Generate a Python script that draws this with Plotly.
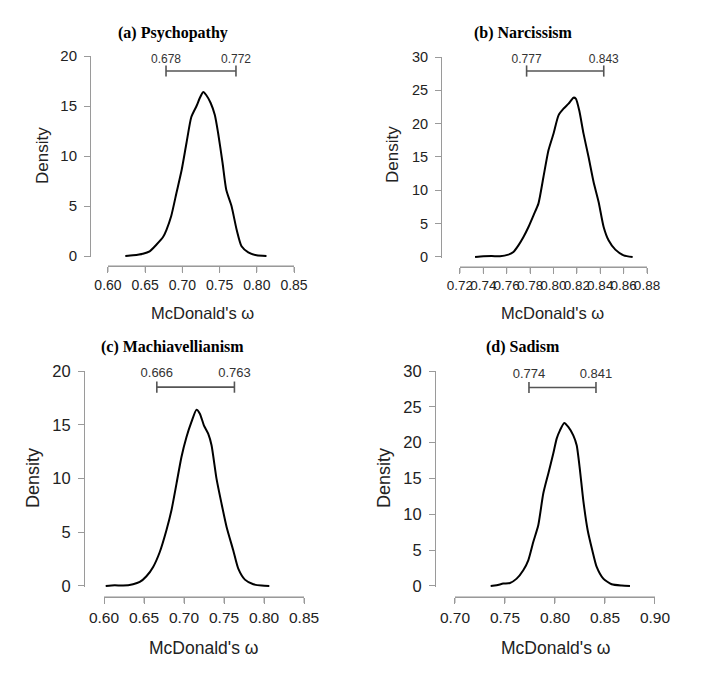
import plotly.graph_objects as go

# ---- data ----
psy_x = [0.6233, 0.6337, 0.647, 0.656, 0.665, 0.674, 0.6785, 0.685, 0.692, 0.699, 0.7055, 0.712,
         0.719, 0.7234, 0.728, 0.732, 0.738, 0.7436, 0.748, 0.754, 0.759, 0.766, 0.773, 0.7795,
         0.7885, 0.7997, 0.813]
psy_y = [0, 0.07, 0.23, 0.47, 1.13, 1.9, 2.6, 4.0, 6.3, 8.6, 11.3, 13.9,
         15.0, 15.8, 16.4, 16.1, 15.3, 14.1, 12.3, 9.3, 6.6, 5.0, 2.6, 0.97,
         0.37, 0.07, 0]

nar_x = [0.7329, 0.74, 0.7471, 0.7543, 0.7614, 0.7657, 0.77, 0.7743, 0.7786, 0.7829, 0.7871,
         0.7914, 0.7957, 0.80, 0.8043, 0.8086, 0.8129, 0.8171, 0.8191, 0.822, 0.8257, 0.83,
         0.8343, 0.8386, 0.8429, 0.8471, 0.8529, 0.86, 0.8677]
nar_y = [0, 0.1, 0.15, 0.1, 0.35, 0.75, 1.75, 3.0, 4.5, 6.25, 8.0,
         12.0, 16.0, 18.5, 21.25, 22.25, 23.0, 23.9, 23.75, 22.0, 18.5, 15.0,
         11.25, 8.25, 4.5, 2.5, 1.1, 0.25, 0]

mac_x = [0.6021, 0.6134, 0.6238, 0.6363, 0.6447, 0.653, 0.6614, 0.6697, 0.678, 0.6843, 0.6906,
         0.6968, 0.7031, 0.7093, 0.7156, 0.7198, 0.7248, 0.7302, 0.7344, 0.7406, 0.7469, 0.7532,
         0.7615, 0.7678, 0.7761, 0.7866, 0.797, 0.8066]
mac_y = [0, 0.06, 0.03, 0.16, 0.37, 0.9, 1.77, 3.16, 5.18, 7.04, 9.52,
         12.0, 13.86, 15.26, 16.4, 16.03, 14.95, 14.17, 13.09, 9.98, 7.66, 5.49,
         3.32, 1.61, 0.59, 0.16, 0.03, 0]

sad_x = [0.7357, 0.7417, 0.7483, 0.755, 0.7617, 0.7683, 0.7733, 0.7783, 0.7833, 0.7883, 0.7933,
         0.7983, 0.8017, 0.805, 0.8093, 0.8133, 0.8183, 0.8217, 0.825, 0.8283, 0.8327, 0.8373,
         0.8417, 0.8483, 0.8567, 0.8667, 0.875]
sad_y = [0, 0.09, 0.33, 0.42, 1.02, 2.19, 3.58, 6.14, 8.47, 12.9, 15.67,
         18.47, 20.56, 21.72, 22.74, 22.19, 21.02, 19.63, 16.14, 11.95, 7.77, 4.98,
         2.65, 1.02, 0.23, 0.05, 0]

titles = ["(a) Psychopathy", "(b) Narcissism", "(c) Machiavellianism", "(d) Sadism"]
ci_low = [0.678, 0.777, 0.666, 0.774]
ci_high = [0.772, 0.843, 0.763, 0.841]

xticks_a = [0.60, 0.65, 0.70, 0.75, 0.80, 0.85]
xticks_b = [0.72, 0.74, 0.76, 0.78, 0.80, 0.82, 0.84, 0.86, 0.88]
xticks_c = [0.60, 0.65, 0.70, 0.75, 0.80, 0.85]
xticks_d = [0.70, 0.75, 0.80, 0.85, 0.90]
yticks_20 = [0, 5, 10, 15, 20]
yticks_30 = [0, 5, 10, 15, 20, 25, 30]

# ---- layout per panel (paper coordinates; page body adds an 8px offset) ----
H = 678
panels = [
    dict(x=psy_x, y=psy_y, xt=xticks_a, yt=yticks_20, xdom=[0.1418, 0.4057], ydom=[0.6327, 0.9292],
         ypos=0.1163, xpos=0.6195, bar=18.5, lab=19.6, tf=14, cf=12,
         title=(0.2340, 0.9631), dens=(0.0496, 0.7832), xt_pos=(0.2752, 0.5501), af=17),
    dict(x=nar_x, y=nar_y, xt=xticks_b, yt=yticks_30, xdom=[0.6411, 0.9064], ydom=[0.6313, 0.9277],
         ypos=0.6142, xpos=0.6180, bar=27.9, lab=29.6, tf=13.5, cf=12,
         title=(0.7319, 0.9631), dens=(0.5461, 0.7832), xt_pos=(0.7730, 0.5501), af=17),
    dict(x=mac_x, y=mac_y, xt=xticks_c, yt=yticks_20, xdom=[0.1362, 0.4199], ydom=[0.1460, 0.4646],
         ypos=0.1078, xpos=0.1313, bar=18.5, lab=19.7, tf=15.5, cf=13,
         title=(0.2340, 0.5000), dens=(0.0355, 0.3068), xt_pos=(0.2780, 0.0560), af=18),
    dict(x=sad_x, y=sad_y, xt=xticks_d, yt=yticks_30, xdom=[0.6340, 0.9177], ydom=[0.1460, 0.4646],
         ypos=0.6057, xpos=0.1313, bar=27.7, lab=29.5, tf=15.5, cf=13,
         title=(0.7305, 0.5000), dens=(0.5333, 0.3068), xt_pos=(0.7759, 0.0560), af=18),
]

sans = "Liberation Sans, Arial, sans-serif"
serif = "Liberation Serif, Times New Roman, serif"
axis_grey = "#9a9a9a"
tick_len = 6

fig = go.Figure()
layout = {}
annotations = []
shapes = []

for i, p in enumerate(panels):
    n = "" if i == 0 else str(i + 1)
    xa, ya = "x" + n, "y" + n

    fig.add_trace(go.Scatter(x=p["x"], y=p["y"], mode="lines", xaxis=xa, yaxis=ya,
                             line=dict(color="black", width=2, shape="spline", smoothing=0.6),
                             hoverinfo="skip", showlegend=False))
    # credible interval bar
    fig.add_trace(go.Scatter(x=[ci_low[i], ci_high[i]], y=[p["bar"], p["bar"]], mode="lines+markers",
                             xaxis=xa, yaxis=ya, line=dict(color="#555555", width=1.6),
                             marker=dict(symbol="line-ns", size=8, line=dict(color="#555555", width=1.6)),
                             hoverinfo="skip", showlegend=False))
    fig.add_trace(go.Scatter(x=[ci_low[i], ci_high[i]], y=[p["lab"], p["lab"]], mode="text",
                             xaxis=xa, yaxis=ya, text=[f"{v:.3f}" for v in (ci_low[i], ci_high[i])],
                             textposition="middle center", cliponaxis=False,
                             textfont=dict(family=sans, size=p["cf"], color="#333333"),
                             hoverinfo="skip", showlegend=False))

    ymax = p["yt"][-1]
    layout["xaxis" + n] = dict(domain=p["xdom"], range=[p["xt"][0], p["xt"][-1]], anchor="free",
                               position=p["xpos"], tickvals=p["xt"], automargin=False,
                               ticktext=[f"{v:.2f}" for v in p["xt"]], tickangle=0,
                               showline=True, linecolor=axis_grey, linewidth=1,
                               ticks="outside", ticklen=tick_len, tickcolor=axis_grey,
                               showgrid=False, zeroline=False,
                               tickfont=dict(family=sans, size=p["tf"], color="#222222"))
    layout["yaxis" + n] = dict(domain=p["ydom"], range=[-ymax * 0.005, ymax], anchor="free",
                               position=p["ypos"], tickvals=p["yt"], automargin=False,
                               showline=True, linecolor=axis_grey, linewidth=1,
                               ticks="outside", ticklen=tick_len, tickcolor=axis_grey,
                               ticklabelstandoff=4, showgrid=False, zeroline=False,
                               tickfont=dict(family=sans, size=p["tf"] + 1, color="#222222"))

    # R-style bottom axis line and ticks, detached below the plot area
    shapes.append(dict(type="line", xref=xa, yref="paper", x0=p["xt"][0], x1=p["xt"][-1],
                       y0=p["xpos"], y1=p["xpos"], line=dict(color=axis_grey, width=1)))
    for t in p["xt"]:
        shapes.append(dict(type="line", xref=xa, yref="paper", x0=t, x1=t,
                           y0=p["xpos"], y1=p["xpos"] - tick_len / H,
                           line=dict(color=axis_grey, width=1)))

    annotations.append(dict(text="<b>" + titles[i] + "</b>", x=p["title"][0], y=p["title"][1],
                            xref="paper", yref="paper", showarrow=False, xanchor="center",
                            yanchor="middle", font=dict(family=serif, size=16, color="black")))
    annotations.append(dict(text="Density", x=p["dens"][0], y=p["dens"][1], textangle=-90,
                            xref="paper", yref="paper", showarrow=False, xanchor="center",
                            yanchor="middle", font=dict(family=sans, size=p["af"], color="#222222")))
    annotations.append(dict(text="McDonald's ω", x=p["xt_pos"][0], y=p["xt_pos"][1],
                            xref="paper", yref="paper", showarrow=False, xanchor="center",
                            yanchor="middle", font=dict(family=sans, size=p["af"] - 0.5, color="#222222")))

fig.update_layout(**layout)
fig.update_layout(template="none", width=705, height=H, margin=dict(l=0, r=0, t=0, b=0),
                  paper_bgcolor="white", plot_bgcolor="white",
                  annotations=annotations, shapes=shapes)

fig.write_html("out.html")
